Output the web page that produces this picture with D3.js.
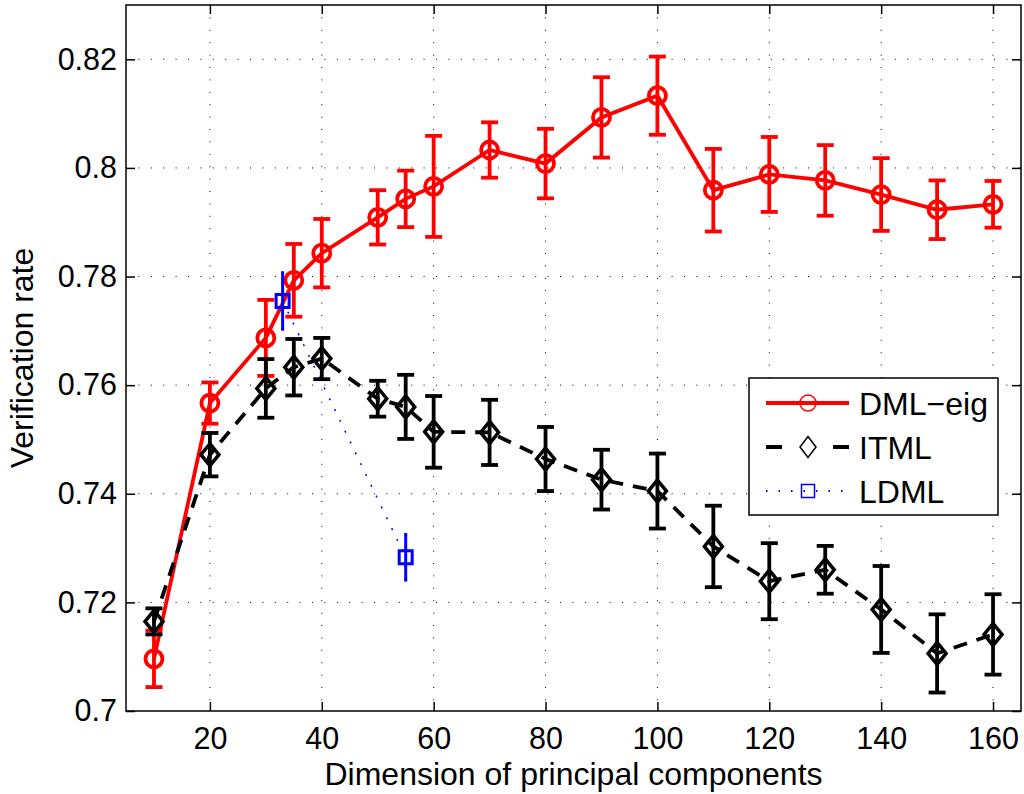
<!DOCTYPE html>
<html>
<head>
<meta charset="utf-8">
<script src="https://cdn.jsdelivr.net/npm/d3@7"></script>
<style>
  html, body { margin: 0; padding: 0; background: #fff; }
  svg { display: block; font-family: "Liberation Sans", Arial, sans-serif; }
</style>
</head>
<body>
<svg id="chart" width="1024" height="794"></svg>
<script>
// dimensions (x) shared by DML-eig and ITML
const dims = [10, 20, 30, 35, 40, 50, 55, 60, 70, 80, 90, 100, 110, 120, 130, 140, 150, 160];

const dmlRate = [0.7096, 0.7567, 0.7687, 0.7793, 0.7843, 0.7909, 0.7943, 0.7966, 0.8033, 0.8008,
                 0.8093, 0.8133, 0.7959, 0.7988, 0.7977, 0.7951, 0.7923, 0.7933];
const dmlErr = [0.0052, 0.0038, 0.0070, 0.0067, 0.0063, 0.0050, 0.0052, 0.0093, 0.0051, 0.0064,
                0.0074, 0.0072, 0.0076, 0.0069, 0.0065, 0.0067, 0.0054, 0.0043];

const itmlRate = [0.7165, 0.7472, 0.7594, 0.7633, 0.7649, 0.7575, 0.7560, 0.7514, 0.7513, 0.7464,
                  0.7426, 0.7405, 0.7303, 0.7239, 0.7260, 0.7187, 0.7106, 0.7141];
const itmlErr = [0.0024, 0.0040, 0.0054, 0.0052, 0.0038, 0.0033, 0.0059, 0.0066, 0.0060, 0.0059,
                 0.0055, 0.0069, 0.0075, 0.0070, 0.0044, 0.0080, 0.0072, 0.0074];

const ldmlDims = [33, 55];
const ldmlRate = [0.7755, 0.7283];
const ldmlErr = [0.0052, 0.0042];

const xTicks = [20, 40, 60, 80, 100, 120, 140, 160];
const yTicks = [0.70, 0.72, 0.74, 0.76, 0.78, 0.80, 0.82];
const yTickLabels = ["0.7", "0.72", "0.74", "0.76", "0.78", "0.8", "0.82"];

const legendNames = ["DML\u2212eig", "ITML", "LDML"];

const svg = d3.select("#chart");
const plotL = 126, plotR = 1021, plotT = 5, plotB = 711;

const x = d3.scaleLinear().domain([5, 165]).range([plotL, plotR]);
const y = d3.scaleLinear().domain([0.70, 0.83]).range([plotB, plotT]);

// grid
const grid = svg.append("g").attr("stroke", "#000").attr("stroke-width", 1)
  .attr("stroke-dasharray", "1,11.4").attr("fill", "none");
grid.selectAll("line.gx").data(xTicks).join("line").attr("class", "gx")
  .attr("x1", d => x(d)).attr("x2", d => x(d)).attr("y1", plotT).attr("y2", plotB);
grid.selectAll("line.gy").data(yTicks.slice(1)).join("line").attr("class", "gy")
  .attr("y1", d => y(d)).attr("y2", d => y(d)).attr("x1", plotL).attr("x2", plotR);

// axes with inward ticks
const tickLen = 9;
svg.append("g").attr("transform", `translate(0,${plotB})`)
  .call(d3.axisBottom(x).tickValues(xTicks).tickSizeInner(-tickLen).tickSizeOuter(0).tickPadding(16))
  .call(g => g.select(".domain").remove());
svg.append("g").attr("transform", `translate(0,${plotT})`)
  .call(d3.axisTop(x).tickValues(xTicks).tickSizeInner(-tickLen).tickSizeOuter(0).tickFormat(""))
  .call(g => g.select(".domain").remove());
svg.append("g").attr("transform", `translate(${plotL},0)`)
  .call(d3.axisLeft(y).tickValues(yTicks).tickSizeInner(-tickLen).tickSizeOuter(0).tickPadding(9)
    .tickFormat((d, i) => yTickLabels[i]))
  .call(g => g.select(".domain").remove());
svg.append("g").attr("transform", `translate(${plotR},0)`)
  .call(d3.axisRight(y).tickValues(yTicks).tickSizeInner(-tickLen).tickSizeOuter(0).tickFormat(""))
  .call(g => g.select(".domain").remove());

svg.selectAll(".tick line").attr("stroke", "#000").attr("stroke-width", 1.5);
svg.selectAll(".tick text").attr("font-size", 30.5).attr("fill", "#000")
  .attr("font-family", '"Liberation Sans", Arial, sans-serif');

svg.append("rect").attr("x", plotL).attr("y", plotT).attr("width", plotR - plotL).attr("height", plotB - plotT)
  .attr("fill", "none").attr("stroke", "#000").attr("stroke-width", 1.5);

// axis labels
svg.append("text").attr("x", (plotL + plotR) / 2).attr("y", 785).attr("text-anchor", "middle")
  .attr("font-size", 32).text("Dimension of principal components");
svg.append("text").attr("transform", `translate(33,${(plotT + plotB) / 2}) rotate(-90)`)
  .attr("text-anchor", "middle").attr("font-size", 32).text("Verification rate");

// series
function drawSeries(xs, ys, es, opt) {
  const g = svg.append("g");
  const pts = xs.map((d, i) => ({x: d, y: ys[i], e: es[i]}));
  g.append("path").datum(pts)
    .attr("d", d3.line().x(d => x(d.x)).y(d => y(d.y)))
    .attr("fill", "none").attr("stroke", opt.color).attr("stroke-width", opt.lineWidth)
    .attr("stroke-dasharray", opt.dash || null);
  const eb = g.selectAll("g.eb").data(pts).join("g").attr("class", "eb")
    .attr("stroke", opt.color).attr("stroke-width", opt.errWidth);
  eb.append("line").attr("x1", d => x(d.x)).attr("x2", d => x(d.x))
    .attr("y1", d => y(d.y - d.e)).attr("y2", d => y(d.y + d.e));
  if (opt.cap > 0) {
    eb.append("line").attr("x1", d => x(d.x) - opt.cap).attr("x2", d => x(d.x) + opt.cap)
      .attr("y1", d => y(d.y + d.e)).attr("y2", d => y(d.y + d.e));
    eb.append("line").attr("x1", d => x(d.x) - opt.cap).attr("x2", d => x(d.x) + opt.cap)
      .attr("y1", d => y(d.y - d.e)).attr("y2", d => y(d.y - d.e));
  }
  g.selectAll("path.mk").data(pts).join("path").attr("class", "mk")
    .attr("transform", d => `translate(${x(d.x)},${y(d.y)})`)
    .attr("d", opt.marker)
    .attr("fill", "none").attr("stroke", opt.color).attr("stroke-width", opt.markerWidth);
}

const circle = r => `M${r},0A${r},${r} 0 1,1 ${-r},0A${r},${r} 0 1,1 ${r},0Z`;
const diamond = (w, h) => `M0,${-h}L${w},0L0,${h}L${-w},0Z`;
const square = s => `M${-s},${-s}H${s}V${s}H${-s}Z`;

drawSeries(dims, dmlRate, dmlErr, {color: "#ff0000", lineWidth: 3.8, errWidth: 3.8, cap: 8.5,
  marker: circle(8.5), markerWidth: 3.8});
drawSeries(dims, itmlRate, itmlErr, {color: "#000000", lineWidth: 3.8, errWidth: 3.8, cap: 8.5,
  dash: "14,10", marker: diamond(9, 11), markerWidth: 3.5});
drawSeries(ldmlDims, ldmlRate, ldmlErr, {color: "#0000ff", lineWidth: 1.5, errWidth: 3, cap: 1.5,
  dash: "2,10", marker: square(6.5), markerWidth: 3});

// legend
const lg = svg.append("g");
lg.append("rect").attr("x", 749).attr("y", 378).attr("width", 249).attr("height", 137)
  .attr("fill", "#fff").attr("stroke", "#000").attr("stroke-width", 1.5);
const ly = [403, 447, 491];
const lx0 = 766, lx1 = 849, lxm = 808;
// DML-eig
lg.append("line").attr("x1", lx0).attr("x2", lx1).attr("y1", ly[0]).attr("y2", ly[0])
  .attr("stroke", "#ff0000").attr("stroke-width", 4);
lg.append("path").attr("transform", `translate(${lxm},${ly[0]})`).attr("d", circle(8))
  .attr("fill", "none").attr("stroke", "#ff0000").attr("stroke-width", 1.5);
// ITML
[[lx0, lx0 + 16], [lx1 - 16, lx1]].forEach(([a, b]) => {
  lg.append("line").attr("x1", a).attr("x2", b).attr("y1", ly[1]).attr("y2", ly[1])
    .attr("stroke", "#000").attr("stroke-width", 4);
});
lg.append("path").attr("transform", `translate(${lxm},${ly[1]})`).attr("d", diamond(8, 10.5))
  .attr("fill", "none").attr("stroke", "#000").attr("stroke-width", 1.5);
// LDML
lg.append("line").attr("x1", lx0).attr("x2", lx1).attr("y1", ly[2]).attr("y2", ly[2])
  .attr("stroke", "#0000ff").attr("stroke-width", 2).attr("stroke-dasharray", "1.5,11");
lg.append("path").attr("transform", `translate(${lxm},${ly[2]})`).attr("d", square(6.5))
  .attr("fill", "none").attr("stroke", "#0000ff").attr("stroke-width", 1.5);
lg.selectAll("text").data(legendNames).join("text")
  .attr("x", 859).attr("y", (d, i) => ly[i] + 12).attr("font-size", 32).text(d => d);
</script>
</body>
</html>
